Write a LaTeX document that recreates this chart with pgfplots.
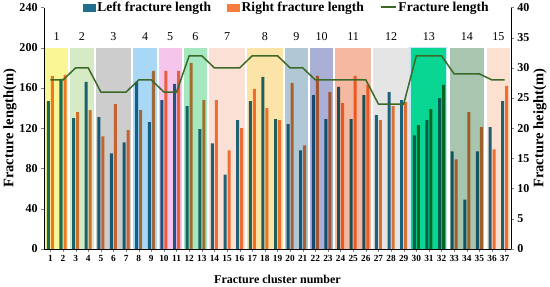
\documentclass[border=0pt]{standalone}
\usepackage{pgfplots}
\pgfplotsset{compat=1.18}
\usepackage{pgfplotstable}
\usepackage{fontspec}
\setmainfont{Liberation Serif}

\definecolor{leftc}{RGB}{31,110,140}
\definecolor{rightc}{RGB}{244,124,60}
\definecolor{linec}{RGB}{60,105,40}
% stage background colours
\definecolor{s1}{RGB}{250,246,150}
\definecolor{s2}{RGB}{213,234,197}
\definecolor{s3}{RGB}{205,205,205}
\definecolor{s4}{RGB}{168,216,245}
\definecolor{s5}{RGB}{245,197,236}
\definecolor{s6}{RGB}{165,232,192}
\definecolor{s7}{RGB}{251,224,213}
\definecolor{s8}{RGB}{252,227,168}
\definecolor{s9}{RGB}{176,200,213}
\definecolor{s10}{RGB}{170,176,213}
\definecolor{s11}{RGB}{245,184,160}
\definecolor{s12}{RGB}{229,229,229}
\definecolor{s13}{RGB}{8,214,146}
\definecolor{s14}{RGB}{168,197,176}
\definecolor{s15}{RGB}{252,224,208}

% cluster, left length, right length, fracture height
\pgfplotstableread{
c  left right h
1  147  172  28
2  169  173  28
3  130  136  30
4  166  138  30
5  131  112  26
6  95   144  26
7  106  118  26
8  166  138  28
9  126  177  28
10 148  177  26
11 164  177  26
12 142  185  32
13 119  148  32
14 105  148  30
15 74   98   30
16 128  120  30
17 147  159  32
18 171  140  32
19 129  128  32
20 124  165  30
21 98   103  30
22 153  172  28
23 129  156  28
24 161  145  28
25 129  172  28
26 153  163  28
27 133  128  24
28 156  142  24
29 148  146  24
30 113  123  32
31 128  139  32
32 150  163  32
33 97   89   29
34 49   136  29
35 97   121  29
36 121  99   28
37 147  162  28
}\clusters

\newcommand{\stagebox}[3]{%
  \addplot[sharp plot, draw=none, fill=#3, blend mode=multiply, forget plot]
    coordinates {(#1,0) (#1,200) (#2,200) (#2,0)} -- cycle;}
\newcommand{\stagelabel}[2]{\node[font=\fontsize{12}{12}\selectfont] at (axis cs:#1,211) {#2};}

\begin{document}
\begin{tikzpicture}
\begin{axis}[
    scale only axis,
    width=466pt, height=241pt,
    xmin=0.5, xmax=37.5,
    ymin=0, ymax=240,
    axis y line*=left,
    axis x line*=bottom,
    axis on top,
    ybar=1pt, bar width=3pt,
    xtick={1,...,37},
    ytick={0,40,...,240},
    tick align=outside,
    major tick length=3pt,
    x tick label style={font=\bfseries\fontsize{9.3}{10}\selectfont},
    y tick label style={font=\bfseries\fontsize{12}{12}\selectfont},
    /pgf/number format/assume math mode=true,
    xlabel={\bfseries Fracture cluster number},
    ylabel={\bfseries Fracture length(m)},
    xlabel style={font=\bfseries\fontsize{12}{12}\selectfont, yshift=-6pt},
    ylabel style={font=\bfseries\fontsize{14.5}{14.5}\selectfont, yshift=-4pt},
]
\addplot[fill=leftc, draw=none] table[x=c, y=left] {\clusters};
\addplot[fill=rightc, draw=none] table[x=c, y=right] {\clusters};

\stagebox{0.55}{2.42}{s1}
\stagebox{2.58}{4.42}{s2}
\stagebox{4.58}{7.42}{s3}
\stagebox{7.58}{9.42}{s4}
\stagebox{9.58}{11.42}{s5}
\stagebox{11.58}{13.42}{s6}
\stagebox{13.58}{16.42}{s7}
\stagebox{16.58}{19.42}{s8}
\stagebox{19.58}{21.42}{s9}
\stagebox{21.58}{23.42}{s10}
\stagebox{23.58}{26.42}{s11}
\stagebox{26.58}{29.42}{s12}
\stagebox{29.5}{32.42}{s13}
\stagebox{32.7}{35.4}{s14}
\stagebox{35.58}{37.42}{s15}
\addplot[sharp plot, draw=cyan!25, line width=1.2pt, forget plot]
  coordinates {(29.5,0) (29.5,200) (32.42,200) (32.42,0)};

\stagelabel{1.5}{1}
\stagelabel{3.5}{2}
\stagelabel{6}{3}
\stagelabel{8.5}{4}
\stagelabel{10.5}{5}
\stagelabel{12.5}{6}
\stagelabel{15}{7}
\stagelabel{18}{8}
\stagelabel{20.5}{9}
\stagelabel{22.5}{10}
\stagelabel{25}{11}
\stagelabel{28}{12}
\stagelabel{31}{13}
\stagelabel{34}{14}
\stagelabel{36.5}{15}
\end{axis}

\begin{axis}[
    scale only axis,
    width=466pt, height=241pt,
    xmin=0.5, xmax=37.5,
    ymin=0, ymax=40,
    axis y line*=right,
    axis x line=none,
    ytick={0,5,...,40},
    tick align=outside,
    major tick length=3pt,
    y tick label style={font=\bfseries\fontsize{12}{12}\selectfont},
    /pgf/number format/assume math mode=true,
    ylabel={\bfseries Fracture height(m)},
    ylabel style={font=\bfseries\fontsize{14.5}{14.5}\selectfont, yshift=3pt},
    legend columns=3,
    legend style={at={(0.52,1.0)}, anchor=center, draw=none, fill=none,
        font=\bfseries\fontsize{13.5}{13.5}\selectfont,
        inner sep=0pt,
        /tikz/every even column/.append style={column sep=14pt}},
]
\addlegendimage{legend image code/.code={\fill[leftc] (0pt,-3.5pt) rectangle (12pt,3.5pt);}}
\addlegendentry{Left fracture length}
\addlegendimage{legend image code/.code={\fill[rightc] (0pt,-3.5pt) rectangle (12pt,3.5pt);}}
\addlegendentry{Right fracture length}
\addplot[linec, line width=1.5pt, mark=none,
  legend image code/.code={\draw[linec, line width=1.5pt] (0pt,0.5pt) -- (15pt,0.5pt);}]
  table[x=c, y=h] {\clusters};
\addlegendentry{Fracture length}
\end{axis}
\end{tikzpicture}
\end{document}
